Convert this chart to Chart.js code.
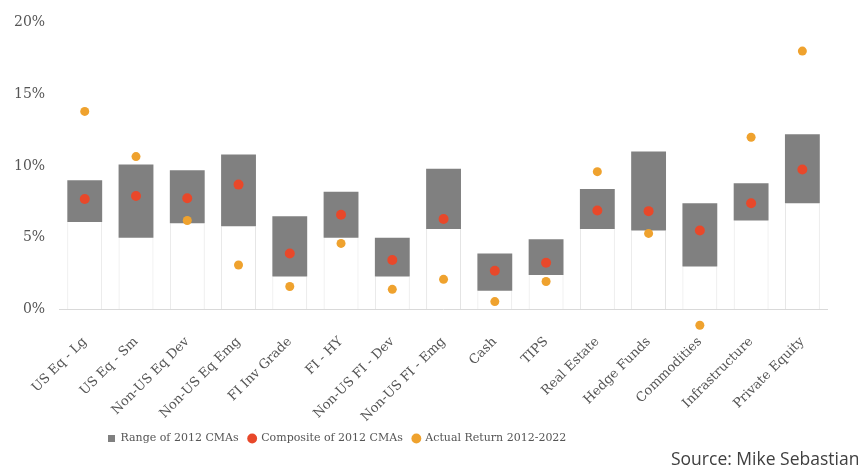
<!DOCTYPE html>
<html>
<head>
<meta charset="utf-8">
<script src="https://cdn.jsdelivr.net/npm/chart.js@4"></script>
<style>
  html,body{margin:0;padding:0;background:#fff;}
  #wrap{position:relative;width:858px;height:474px;}
  #source{position:absolute;left:671px;top:446px;font:17.5px "Open Sans",sans-serif;color:#404040;white-space:nowrap;}
</style>
</head>
<body>
<div id="wrap">
  <canvas id="cma-chart" width="858" height="474"></canvas>
  <div id="source">Source: Mike Sebastian</div>
</div>
<script>
const categories = ["US Eq - Lg","US Eq - Sm","Non-US Eq Dev","Non-US Eq Emg","FI Inv Grade","FI - HY",
  "Non-US FI - Dev","Non-US FI - Emg","Cash","TIPS","Real Estate","Hedge Funds","Commodities","Infrastructure","Private Equity"];
const rangeLow  = [6.1, 5.0, 6.0, 5.8, 2.3, 5.0, 2.3, 5.6, 1.3, 2.4, 5.6, 5.5, 3.0, 6.2, 7.4];
const rangeHigh = [9.0,10.1, 9.7,10.8, 6.5, 8.2, 5.0, 9.8, 3.9, 4.9, 8.4,11.0, 7.4, 8.8,12.2];
const composite = [7.7, 7.9, 7.75,8.7, 3.9, 6.6, 3.45,6.3, 2.7, 3.25,6.9, 6.85,5.5, 7.4, 9.75];
const actual    = [13.8,10.65,6.2,3.1, 1.6, 4.6, 1.4, 2.1, 0.55,1.95,9.6, 5.3,-1.1,12.0,18.0];
const yTicks = [0,5,10,15,20];

const serif = '"DejaVu Serif", serif';
const grey = '#555555';

// shift the legend to sit under the left part of the plot
const legendShift = {
  id:'legendShift',
  afterLayout(chart){ chart.legend.left += 98; }
};

new Chart(document.getElementById("cma-chart"), {
  type:'bar',
  data:{
    labels:categories,
    datasets:[
      {
        label:'Range of 2012 CMAs',
        data: rangeLow.map((v,i)=>[v, rangeHigh[i]]),
        backgroundColor:'#808080',
        borderWidth:0,
        barPercentage:0.68,
        categoryPercentage:1,
        pointStyle:'rect',
        order:3
      },
      {
        type:'line',
        label:'Composite of 2012 CMAs',
        data: composite,
        showLine:false,
        pointRadius:5,
        pointBackgroundColor:'#E8482A',
        pointBorderWidth:0,
        backgroundColor:'#E8482A',
        borderColor:'#E8482A',
        pointStyle:'circle',
        order:1
      },
      {
        type:'line',
        label:'Actual Return 2012-2022',
        data: actual,
        showLine:false,
        pointRadius:4.5,
        pointBackgroundColor:'#EFA22E',
        pointBorderWidth:0,
        backgroundColor:'#EFA22E',
        borderColor:'#EFA22E',
        pointStyle:'circle',
        clip:false,
        order:2
      },
      {
        label:'base',
        data: rangeLow,
        backgroundColor:'#ffffff',
        borderColor:'#e4e4e4',
        borderWidth:{left:1,right:1,top:0,bottom:0},
        barPercentage:0.68,
        categoryPercentage:1,
        order:4
      }
    ]
  },
  options:{
    responsive:false,
    animation:false,
    layout:{ padding:{ left:0, right:30, top:20, bottom:20 } },
    plugins:{
      legend:{
        position:'bottom',
        align:'start',
        labels:{
          usePointStyle:true,
          boxWidth:7,
          boxHeight:7,
          padding:10,
          color:grey,
          font:{ family:serif, size:11 },
          filter:item=>item.text!=='base',
          sort:(a,b)=>a.datasetIndex-b.datasetIndex
        }
      },
      tooltip:{ enabled:false }
    },
    scales:{
      x:{
        stacked:true,
        grid:{ display:false },
        border:{ display:false },
        ticks:{ color:grey, font:{ family:serif, size:13 }, maxRotation:45, minRotation:45, padding:-2 }
      },
      y:{
        min:-1.3,
        max:20,
        afterBuildTicks:axis=>{ axis.ticks = yTicks.map(v=>({value:v})); },
        grid:{ drawTicks:false, color:c=>c.tick && c.tick.value===0 ? '#d9d9d9' : 'rgba(0,0,0,0)' },
        border:{ display:false },
        ticks:{ color:grey, font:{ family:serif, size:14 }, padding:14, callback:v=>v+'%' }
      }
    }
  },
  plugins:[legendShift]
});
</script>
</body>
</html>
